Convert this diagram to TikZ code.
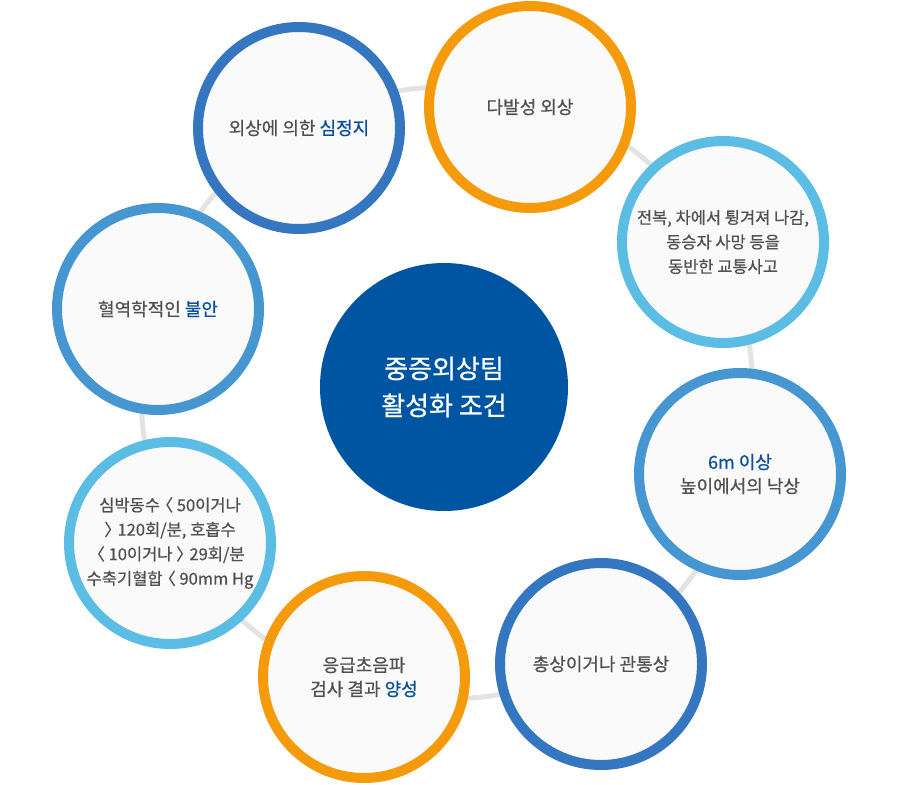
\documentclass[tikz,border=0pt]{standalone}
\usepackage{fontspec}
\setmainfont{Noto Sans CJK KR}[FakeBold=0.6]
\definecolor{ringgray}{HTML}{E3E3E3}
\definecolor{dblue}{HTML}{3476C0}
\definecolor{mblue}{HTML}{4596D1}
\definecolor{lblue}{HTML}{5BBDE3}
\definecolor{orng}{HTML}{F59A0B}
\definecolor{cfill}{HTML}{0055A2}
\definecolor{txtgray}{HTML}{505050}
\definecolor{hiblue}{HTML}{0A4F9C}
\definecolor{bubblefill}{HTML}{FAFAFA}
\tikzset{
  bubble/.style={circle, draw=#1, line width=10pt, fill=bubblefill, minimum size=202pt, inner sep=0pt, align=center, text=txtgray, font=\fontsize{18}{24}\selectfont},
  smalltext/.style={font=\fontsize{16.5}{24.5}\selectfont},
  centerbubble/.style={circle, fill=cfill, minimum size=248pt, inner sep=0pt, align=center, text=white, font=\fontsize{26}{37}\selectfont}
}
\newcommand{\hlt}[1]{\textcolor{hiblue}{#1}}
\newcommand{\lbr}{\hspace{-0.42em}〈}
\newcommand{\rbr}{〉\hspace{-0.42em}}
\begin{document}
\begin{tikzpicture}[x=1pt,y=-1pt]
\useasboundingbox (0,0) rectangle (899,784);
\fill[white] (0,0) rectangle (899,784);
\coordinate (ringc) at (447,393);
\draw[ringgray, line width=5pt] (ringc) circle[radius=306];
\node[centerbubble] (core) at (444,387) {중증외상팀\\활성화 조건};
\node[bubble=dblue] (b1) at (299,128) {외상에 의한 \hlt{심정지}};
\node[bubble=orng] (b2) at (530,107) {다발성 외상};
\node[bubble=lblue, smalltext] (b3) at (723,242) {전복, 차에서 튕겨져 나감,\\동승자 사망 등을\\동반한 교통사고};
\node[bubble=mblue] (b4) at (740,474) {\hlt{6m 이상}\\높이에서의 낙상};
\node[bubble=dblue] (b5) at (601,664) {총상이거나 관통상};
\node[bubble=orng] (b6) at (364,677) {응급초음파\\검사 결과 \hlt{양성}};
\node[bubble=lblue, smalltext] (b7) at (170,543) {심박동수 \lbr{} 50이거나\\\rbr{} 120회/분, 호흡수\\\lbr{} 10이거나 \rbr{} 29회/분\\수축기혈합 \lbr{} 90mm Hg};
\node[bubble=mblue] (b8) at (158,309) {혈역학적인 \hlt{불안}};
\end{tikzpicture}
\end{document}
